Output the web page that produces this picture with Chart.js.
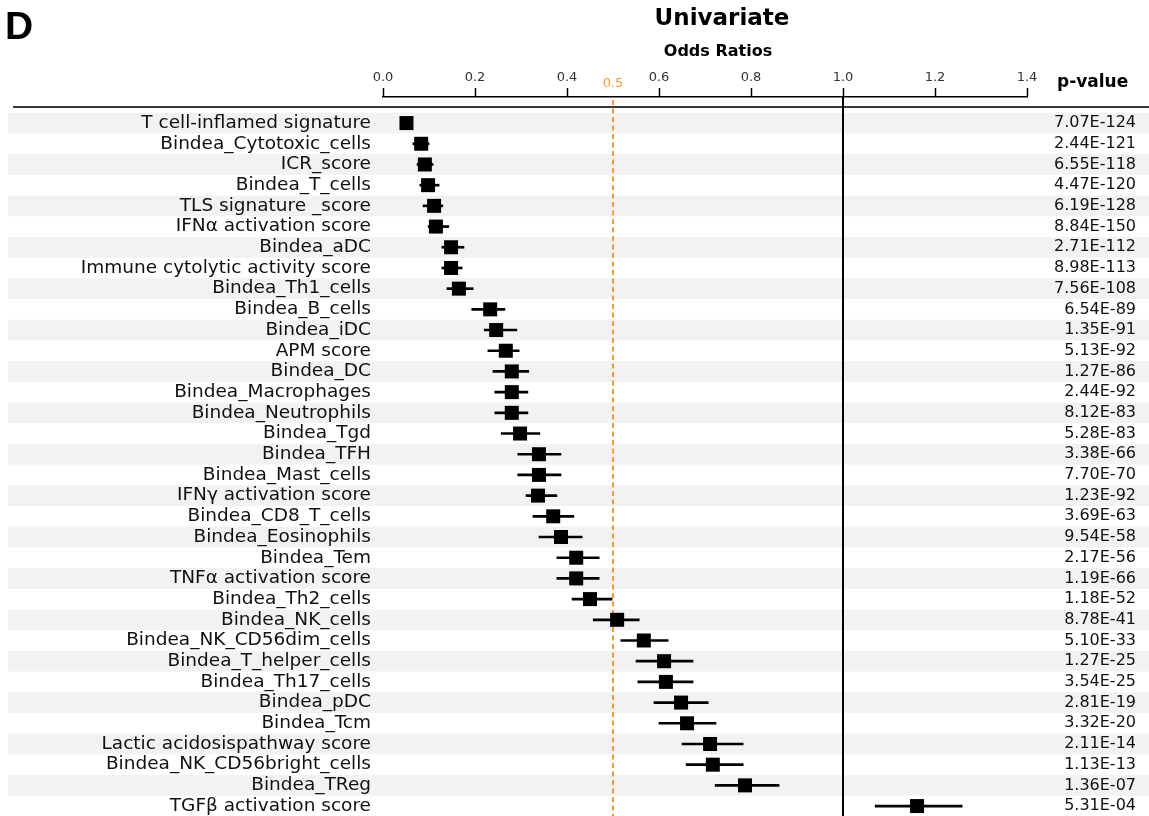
<!DOCTYPE html>
<html>
<head>
<meta charset="utf-8">
<script src="https://cdn.jsdelivr.net/npm/chart.js@4"></script>
<style>
  html, body { margin: 0; padding: 0; background: #fff; overflow: hidden; }
  canvas { display: block; }
</style>
</head>
<body>
<canvas id="chart" width="1149" height="816"></canvas>
<script>
// row labels, top to bottom
const categories = [
  "T cell-inflamed signature", "Bindea_Cytotoxic_cells", "ICR_score", "Bindea_T_cells",
  "TLS signature _score", "IFNα activation score", "Bindea_aDC", "Immune cytolytic activity score",
  "Bindea_Th1_cells", "Bindea_B_cells", "Bindea_iDC", "APM score", "Bindea_DC",
  "Bindea_Macrophages", "Bindea_Neutrophils", "Bindea_Tgd", "Bindea_TFH", "Bindea_Mast_cells",
  "IFNγ activation score", "Bindea_CD8_T_cells", "Bindea_Eosinophils", "Bindea_Tem",
  "TNFα activation score", "Bindea_Th2_cells", "Bindea_NK_cells", "Bindea_NK_CD56dim_cells",
  "Bindea_T_helper_cells", "Bindea_Th17_cells", "Bindea_pDC", "Bindea_Tcm",
  "Lactic acidosispathway score", "Bindea_NK_CD56bright_cells", "Bindea_TReg", "TGFβ activation score"
];
const oddsRatio = [
  0.051, 0.083, 0.091, 0.098, 0.111, 0.115, 0.148, 0.148, 0.165, 0.233, 0.246, 0.267,
  0.280, 0.280, 0.280, 0.298, 0.339, 0.339, 0.337, 0.370, 0.387, 0.420, 0.420, 0.450,
  0.509, 0.567, 0.611, 0.615, 0.648, 0.661, 0.711, 0.717, 0.787, 1.161
];
const ciLow = [
  0.043, 0.065, 0.074, 0.080, 0.087, 0.098, 0.128, 0.128, 0.139, 0.193, 0.220, 0.228,
  0.239, 0.243, 0.243, 0.257, 0.293, 0.293, 0.311, 0.326, 0.339, 0.378, 0.378, 0.411,
  0.457, 0.517, 0.550, 0.554, 0.589, 0.600, 0.650, 0.659, 0.722, 1.070
];
const ciHigh = [
  0.059, 0.100, 0.109, 0.122, 0.130, 0.143, 0.176, 0.172, 0.196, 0.265, 0.291, 0.296,
  0.317, 0.315, 0.315, 0.341, 0.387, 0.387, 0.378, 0.415, 0.433, 0.470, 0.470, 0.498,
  0.557, 0.620, 0.674, 0.674, 0.707, 0.724, 0.783, 0.783, 0.861, 1.259
];
const pValues = [
  "7.07E-124", "2.44E-121", "6.55E-118", "4.47E-120", "6.19E-128", "8.84E-150", "2.71E-112",
  "8.98E-113", "7.56E-108", "6.54E-89", "1.35E-91", "5.13E-92", "1.27E-86", "2.44E-92",
  "8.12E-83", "5.28E-83", "3.38E-66", "7.70E-70", "1.23E-92", "3.69E-63", "9.54E-58",
  "2.17E-56", "1.19E-66", "1.18E-52", "8.78E-41", "5.10E-33", "1.27E-25", "3.54E-25",
  "2.81E-19", "3.32E-20", "2.11E-14", "1.13E-13", "1.36E-07", "5.31E-04"
];
const xTicks = [0, 0.2, 0.4, 0.6, 0.8, 1.0, 1.2, 1.4];
const cutoff = 0.5;
const nullValue = 1.0;

const yMin = -1.26;
const yMax = categories.length - 0.52;
const orange = "#f79a3e";

const rowIdx = categories.map((_, i) => i);

// row axes: fixed width, no label overhang padding top/bottom
const fixRowAxis = w => s => {
  s.width = w;
  s.paddingTop = 0;
  s.paddingBottom = 0;
};

// grey row bands, header rule and free text
const decor = {
  id: "decor",
  beforeDraw(chart) {
    const ctx = chart.ctx;
    const y = chart.scales.y;
    ctx.save();
    ctx.fillStyle = "#fff";
    ctx.fillRect(0, 0, chart.width, chart.height);
    ctx.fillStyle = "#f2f2f2";
    rowIdx.forEach(i => {
      if (i % 2 === 0) {
        const t = y.getPixelForValue(i - 0.5);
        const b = y.getPixelForValue(i + 0.5);
        ctx.fillRect(8, t, chart.width - 8, b - t);
      }
    });
    ctx.strokeStyle = "#3a3a3a";
    ctx.lineWidth = 2;
    ctx.beginPath();
    ctx.moveTo(13, chart.chartArea.top + 10);
    ctx.lineTo(chart.width, chart.chartArea.top + 10);
    ctx.stroke();
    ctx.restore();
  },
  afterDraw(chart) {
    const ctx = chart.ctx;
    ctx.save();
    ctx.fillStyle = "#000";
    ctx.textBaseline = "middle";
    ctx.font = "bold 39px 'Liberation Sans'";
    ctx.textAlign = "left";
    ctx.fillText("D", 5, 28);
    ctx.textAlign = "center";
    ctx.font = "bold 23px 'DejaVu Sans'";
    ctx.fillText("Univariate", 722, 19);
    ctx.font = "bold 16px 'DejaVu Sans'";
    ctx.fillText("Odds Ratios", 718, 52);
    ctx.textAlign = "left";
    ctx.font = "bold 17px 'DejaVu Sans'";
    ctx.fillText("p-value", 1057, 83);
    ctx.restore();
  }
};

new Chart(document.getElementById("chart"), {
  type: "bar",
  data: {
    datasets: [
      {
        type: "scatter",
        data: oddsRatio.map((v, i) => ({ x: v, y: i })),
        pointStyle: "rect",
        pointRadius: 9.9,
        backgroundColor: "#000",
        borderWidth: 0,
        yAxisID: "y",
        order: 0
      },
      {
        type: "bar",
        data: ciLow.map((lo, i) => ({ x: [lo, ciHigh[i]], y: i })),
        barThickness: 2,
        backgroundColor: "#000",
        borderWidth: 0,
        yAxisID: "y",
        order: 1
      },
      {
        type: "line",
        data: [{ x: cutoff, y: yMin + 0.15 }, { x: cutoff, y: yMax }],
        borderColor: orange,
        borderWidth: 2,
        borderDash: [5, 3.5],
        pointRadius: 0,
        yAxisID: "y",
        order: 2
      },
      {
        type: "line",
        data: [{ x: nullValue, y: yMin }, { x: nullValue, y: yMax }],
        borderColor: "#000",
        borderWidth: 2,
        pointRadius: 0,
        yAxisID: "y",
        order: 2
      }
    ]
  },
  options: {
    indexAxis: "y",
    responsive: false,
    devicePixelRatio: 1,
    animation: false,
    events: [],
    layout: { autoPadding: false, padding: { left: 0, right: 13, top: 0, bottom: 0 } },
    plugins: { legend: { display: false }, tooltip: { enabled: false } },
    scales: {
      x: {
        type: "linear",
        position: "top",
        min: 0,
        max: 1.4,
        offset: false,
        afterBuildTicks: s => {
          s.ticks = xTicks.concat([cutoff]).sort((a, b) => a - b).map(v => ({ value: v }));
        },
        afterFit: s => { s.height = 97; },
        grid: {
          drawOnChartArea: false,
          tickLength: 9,
          tickWidth: 1.5,
          tickColor: c => (c.tick && c.tick.value === cutoff ? "rgba(0,0,0,0)" : "#000")
        },
        border: { display: true, color: "#000", width: 1.5 },
        ticks: {
          padding: 3,
          autoSkip: false,
          maxRotation: 0,
          color: c => (c.tick && c.tick.value === cutoff ? orange : "#333"),
          font: c => ({
            family: "DejaVu Sans",
            size: 13,
            lineHeight: c.tick && c.tick.value === cutoff ? 0.28 : 1.2
          }),
          callback: v => v.toFixed(1)
        }
      },
      y: {
        type: "linear",
        position: "left",
        reverse: true,
        min: yMin,
        max: yMax,
        offset: false,
        afterBuildTicks: s => { s.ticks = rowIdx.map(i => ({ value: i })); },
        afterFit: fixRowAxis(383),
        grid: { display: false, drawTicks: false },
        border: { display: false },
        ticks: {
          padding: 12,
          autoSkip: false,
          color: "#111",
          font: { family: "DejaVu Sans", size: 18.5 },
          callback: v => categories[v]
        }
      },
      y2: {
        type: "linear",
        position: "right",
        reverse: true,
        min: yMin,
        max: yMax,
        offset: false,
        afterBuildTicks: s => { s.ticks = rowIdx.map(i => ({ value: i })); },
        afterFit: fixRowAxis(109),
        grid: { display: false, drawTicks: false },
        border: { display: false },
        ticks: {
          autoSkip: false,
          crossAlign: "far",
          color: "#111",
          font: { family: "DejaVu Sans", size: 16 },
          callback: v => pValues[v]
        }
      }
    }
  },
  plugins: [decor]
});
</script>
</body>
</html>
